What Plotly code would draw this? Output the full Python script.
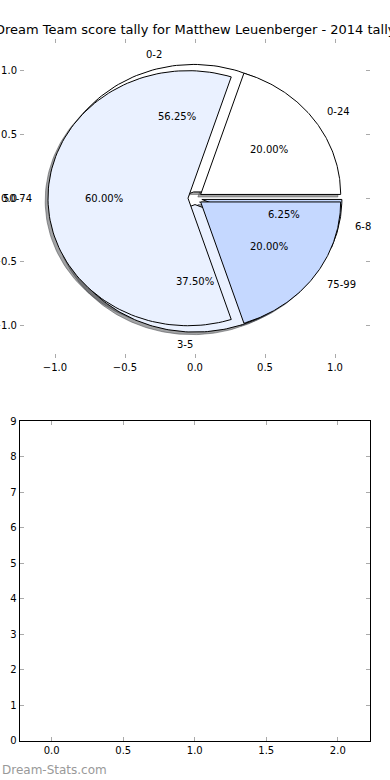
import numpy as np
import plotly.graph_objects as go

# ---------------- data ----------------
title_text = "Dream Team score tally for Matthew Leuenberger - 2014 tally"
score_labels = ["0-24", "50-74", "75-99"]
score_counts = [1, 3, 1]
tally_labels = ["0-2", "3-5", "6-8"]
tally_counts = [9, 6, 1]
slice_colors = ["#FFFFFF", "#EAF1FF", "#C5D8FF"]
pie_ticks = [-1.0, -0.5, 0.0, 0.5, 1.0]
bar_xticks = [0.0, 0.5, 1.0, 1.5, 2.0]
bar_yticks = [0, 1, 2, 3, 4, 5, 6, 7, 8, 9]
watermark = "Dream-Stats.com"

EXPLODE = 0.05
SHADOW_OFF = -0.02
FONT = "DejaVu Sans"

W, H = 390, 780


def hex_rgb(h):
    h = h.lstrip("#")
    return tuple(int(h[i:i + 2], 16) for i in (0, 2, 4))


def pie_geometry(values):
    """Return per-slice (cx, cy, theta1, theta2, thetam) in the style of matplotlib's pie."""
    vals = np.asarray(values, dtype=float)
    fracs = vals / vals.sum()
    out = []
    t1 = 0.0
    for f in fracs:
        t2 = t1 + f
        tm = np.pi * (t1 + t2)
        cx = EXPLODE * np.cos(tm)
        cy = EXPLODE * np.sin(tm)
        out.append((cx, cy, t1 * 360.0, t2 * 360.0, tm))
        t1 = t2
    return out


def wedge_xy(cx, cy, a1, a2, r=1.0, n=120):
    th = np.radians(np.linspace(a1, a2, n))
    xs = np.concatenate([[cx], cx + r * np.cos(th), [cx]])
    ys = np.concatenate([[cy], cy + r * np.sin(th), [cy]])
    return xs, ys


fig = go.Figure()

pies = [  # drawn bottom -> top
    (tally_labels, tally_counts),
    (score_labels, score_counts),
]

# shadows (below every wedge)
for labels, counts in pies:
    for i, (cx, cy, a1, a2, tm) in enumerate(pie_geometry(counts)):
        r, g, b = hex_rgb(slice_colors[i % len(slice_colors)])
        sc = "rgba(%d,%d,%d,0.5)" % (r * 0.3, g * 0.3, b * 0.3)
        xs, ys = wedge_xy(cx + SHADOW_OFF, cy + SHADOW_OFF, a1, a2)
        fig.add_trace(go.Scatter(x=xs, y=ys, mode="lines", fill="toself",
                                 fillcolor=sc, line=dict(color=sc, width=1),
                                 hoverinfo="skip", showlegend=False,
                                 xaxis="x", yaxis="y"))

# wedges
annotations = []
for labels, counts in pies:
    total = float(sum(counts))
    for i, (cx, cy, a1, a2, tm) in enumerate(pie_geometry(counts)):
        xs, ys = wedge_xy(cx, cy, a1, a2)
        fig.add_trace(go.Scatter(x=xs, y=ys, mode="lines", fill="toself",
                                 fillcolor=slice_colors[i % len(slice_colors)],
                                 line=dict(color="black", width=1),
                                 hoverinfo="skip", showlegend=False,
                                 xaxis="x", yaxis="y"))
        lx = cx + 1.1 * np.cos(tm)
        ly = cy + 1.1 * np.sin(tm)
        annotations.append(dict(x=lx, y=ly, xref="x", yref="y", text=labels[i],
                                showarrow=False, xanchor="left" if lx > 0 else "right",
                                yanchor="middle", font=dict(size=10, family=FONT, color="black")))
        px = cx + 0.6 * np.cos(tm)
        py = cy + 0.6 * np.sin(tm)
        annotations.append(dict(x=px, y=py, xref="x", yref="y",
                                text="%1.2f%%" % (100.0 * counts[i] / total),
                                showarrow=False, xanchor="center", yanchor="middle",
                                font=dict(size=10, family=FONT, color="black")))

annotations.append(dict(x=0.5, y=1 - 30 / H, xref="paper", yref="paper", text=title_text,
                        showarrow=False, xanchor="center", yanchor="middle",
                        font=dict(size=13, family=FONT, color="black")))
annotations.append(dict(x=0.0, y=1 - 770 / H, xref="paper", yref="paper", text=watermark,
                        showarrow=False, xanchor="left", yanchor="middle",
                        font=dict(size=12, family=FONT, color="#999999")))

tickfont = dict(size=10, family=FONT, color="black")
common = dict(showgrid=False, zeroline=False, ticks="inside", ticklen=4, tickwidth=1,
              tickcolor="#aaaaaa", tickfont=tickfont, automargin=False, fixedrange=True)

fig.update_layout(
    width=W, height=H, autosize=False,
    margin=dict(l=0, r=0, t=0, b=0),
    paper_bgcolor="white", plot_bgcolor="white",
    showlegend=False,
    annotations=annotations,
    xaxis=dict(domain=[20 / W, 370 / W], range=[-1.25, 1.25], anchor="y",
               tickvals=pie_ticks, tickformat=".1f", showline=True,
               linecolor="rgba(0,0,0,0)", mirror="ticks", **common),
    yaxis=dict(domain=[1 - 357.6 / H, 1 - 38.8 / H], range=[-1.25, 1.25], anchor="x",
               tickvals=pie_ticks, tickformat=".1f", showline=True,
               linecolor="rgba(0,0,0,0)", mirror="ticks", **common),
    xaxis2=dict(domain=[19.5 / W, 370 / W], range=[-0.225, 2.225], anchor="y2",
                tickvals=bar_xticks, tickformat=".1f", showline=True,
                linecolor="black", linewidth=1, mirror="ticks", **common),
    yaxis2=dict(domain=[1 - 740.7 / H, 1 - 421.3 / H], range=[0, 9], anchor="x2",
                tickvals=bar_yticks, tickformat="d", showline=True,
                linecolor="black", linewidth=1, mirror="ticks", **common),
)

fig.add_trace(go.Scatter(x=[], y=[], xaxis="x2", yaxis="y2", showlegend=False))

fig.write_html("out.html", config={"displayModeBar": False},
               post_script="document.body.style.margin='0px';document.body.style.overflow='hidden';")
